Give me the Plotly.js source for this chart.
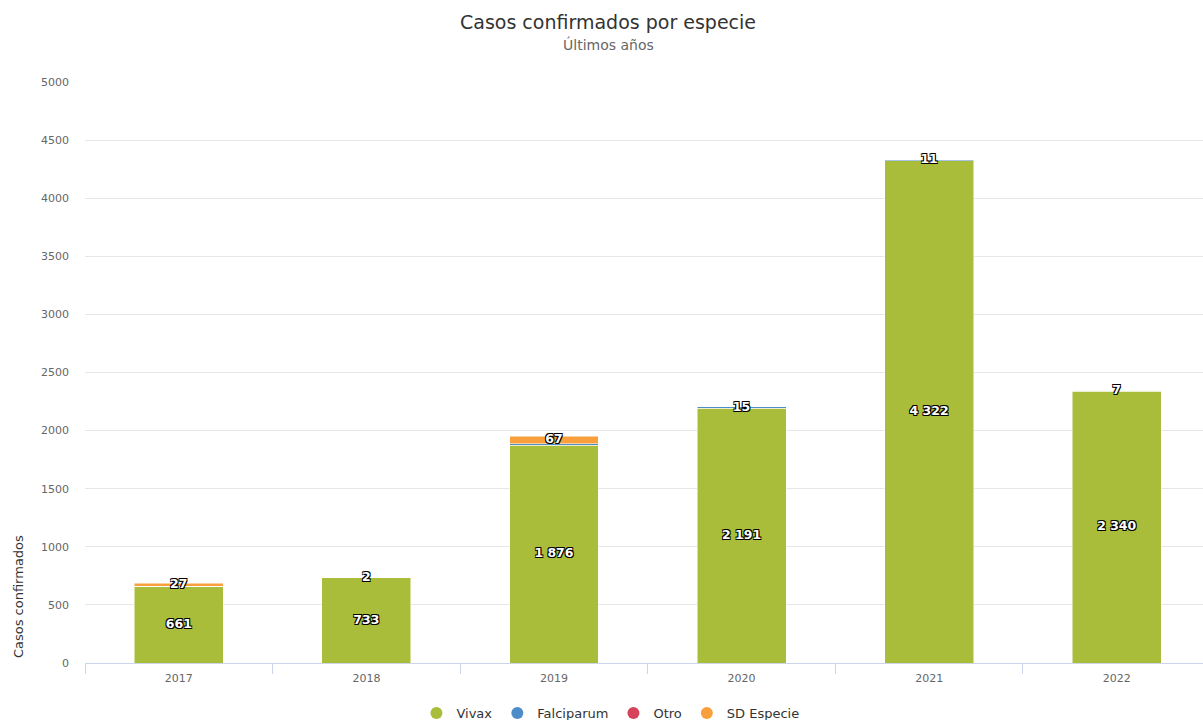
<!DOCTYPE html>
<html>
<head>
<meta charset="utf-8">
<script src="https://cdn.plot.ly/plotly-3.0.1.min.js"></script>
<style>
  html, body { margin: 0; padding: 0; background: #fff; }
  #chart { width: 1203px; height: 720px; }
</style>
</head>
<body>
<div id="chart"></div>
<script>
// Data
var years = ['2017', '2018', '2019', '2020', '2021', '2022'];
var vivax = [661, 733, 1876, 2191, 4322, 2340];
var falciparum = [0, 2, 10, 15, 11, 7];
var otro = [0, 0, 0, 0, 0, 0];
var sdEspecie = [27, 0, 67, 0, 0, 0];

var seriesNames = ['Vivax', 'Falciparum', 'Otro', 'SD Especie'];
var seriesColors = ['#a9bd3a', '#4d8bc9', '#d5445b', '#f9a03c'];
var seriesValues = [vivax, falciparum, otro, sdEspecie];

function fmt(n) {
    return String(n).replace(/\B(?=(\d{3})+(?!\d))/g, ' ');
}

var labelFont = {
    family: 'DejaVu Sans', size: 12.5, color: '#fff', weight: 'bold',
    shadow: '-1px -1px 0 #000, 1px -1px 0 #000, -1px 1px 0 #000, 1px 1px 0 #000'
};

var traces = [];

// stacked bars
seriesValues.forEach(function (vals, i) {
    traces.push({
        type: 'bar', x: years, y: vals, name: seriesNames[i],
        marker: {color: seriesColors[i], line: {color: '#fff', width: 0.5}},
        showlegend: false, hoverinfo: 'x+y+name'
    });
});

// data labels: vivax in the middle, plus the top-most small series
var lx = [], ly = [], lt = [];
years.forEach(function (yr, j) {
    lx.push(yr); ly.push(vivax[j] / 2); lt.push(fmt(vivax[j]));
    var base = vivax[j], top = null;
    for (var i = 1; i < seriesValues.length; i++) {
        var v = seriesValues[i][j];
        if (v > 0) top = {y: base + v / 2, v: v};
        base += v;
    }
    if (top) { lx.push(yr); ly.push(top.y); lt.push(fmt(top.v)); }
});
traces.push({
    type: 'scatter', mode: 'text', x: lx, y: ly, text: lt,
    textfont: labelFont, textposition: 'middle center',
    showlegend: false, hoverinfo: 'skip', cliponaxis: false
});

// legend with round symbols
seriesNames.forEach(function (nm, i) {
    traces.push({
        type: 'scatter', mode: 'markers', x: [null], y: [null], name: nm,
        marker: {color: seriesColors[i], size: 12, symbol: 'circle'},
        hoverinfo: 'skip'
    });
});

var layout = {
    width: 1203, height: 720,
    margin: {l: 85, r: 0, t: 82, b: 57, autoexpand: false},
    paper_bgcolor: '#fff', plot_bgcolor: '#fff',
    font: {family: 'DejaVu Sans', color: '#666'},
    barmode: 'stack', bargap: 0.526,
    xaxis: {
        type: 'category', range: [-0.5, 5.46], tickson: 'boundaries', ticks: 'outside', ticklen: 10,
        tickcolor: '#ccd6eb', showline: true, linecolor: '#ccd6eb', linewidth: 1,
        showgrid: false, tickfont: {size: 11, color: '#666'}, fixedrange: true,
        ticklabelstandoff: 5
    },
    yaxis: {
        range: [0, 5000], dtick: 500, tick0: 0, gridcolor: '#e6e6e6',
        zeroline: false, ticks: '', ticklabelstandoff: 15,
        tickfont: {size: 11, color: '#666'}, fixedrange: true
    },
    annotations: [
        {
            text: 'Casos confirmados por especie', xref: 'paper', yref: 'paper',
            x: 0.468, xanchor: 'center', y: 1.1033, yanchor: 'middle', showarrow: false,
            font: {size: 19, color: '#333'}
        },
        {
            text: 'Últimos años', xref: 'paper', yref: 'paper',
            x: 0.468, xanchor: 'center', y: 1.0654, yanchor: 'middle', showarrow: false,
            font: {size: 14, color: '#666'}
        },
        {
            text: 'Casos confirmados', textangle: -90, xref: 'paper', yref: 'paper',
            x: -0.06, xanchor: 'center', y: 0.115, yanchor: 'middle', showarrow: false,
            font: {size: 13, color: '#333'}
        }
    ],
    legend: {
        orientation: 'h', x: 0.47, xanchor: 'center', y: -0.086, yanchor: 'middle',
        font: {size: 13, color: '#333'}, itemsizing: 'constant', traceorder: 'normal'
    }
};

Plotly.newPlot('chart', traces, layout, {displayModeBar: false, staticPlot: true});
</script>
</body>
</html>
